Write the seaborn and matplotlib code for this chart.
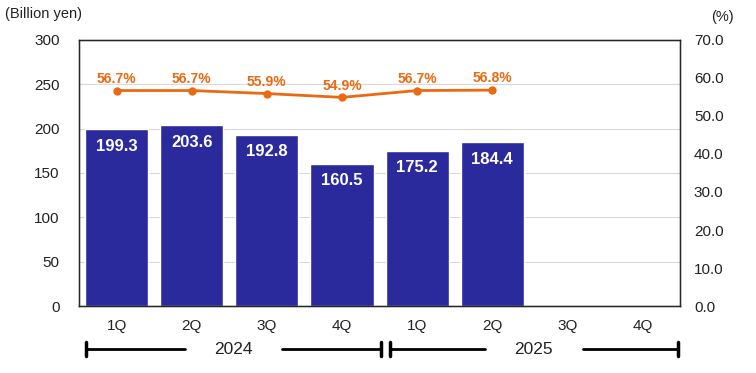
import matplotlib
matplotlib.use("Agg")
import matplotlib.pyplot as plt
import matplotlib.transforms as mtransforms
import seaborn as sns
import pandas as pd
import numpy as np

# data
years = ["2024", "2025"]
quarters = ["1Q", "2Q", "3Q", "4Q", "1Q", "2Q", "3Q", "4Q"]
slots = ["2024 1Q", "2024 2Q", "2024 3Q", "2024 4Q",
         "2025 1Q", "2025 2Q", "2025 3Q", "2025 4Q"]
sales = [199.3, 203.6, 192.8, 160.5, 175.2, 184.4, np.nan, np.nan]
ratio = [56.7, 56.7, 55.9, 54.9, 56.7, 56.8, np.nan, np.nan]

bar_col = "#2B2A9C"
line_col = "#EA6A12"

sns.set_style("white")
plt.rcParams["font.family"] = ["Liberation Sans", "DejaVu Sans"]

df = pd.DataFrame({"slot": slots, "sales": sales, "ratio": ratio})

fig = plt.figure(figsize=(7.56, 3.73), dpi=100)
ax = fig.add_axes([0.1045, 0.1796, 0.795, 0.7132])

sns.barplot(data=df, x="slot", y="sales", order=slots, color=bar_col,
            width=0.84, saturation=1, ax=ax, zorder=2)
ax.set_ylim(0, 300)
ax.set_yticks(range(0, 301, 50))
ax.yaxis.grid(True, color="#D9D9D9", lw=0.8, zorder=0)
ax.set_axisbelow(True)
ax.set_xlim(-0.5, 7.5)
ax.set_xticks(range(8))
ax.set_xticklabels(quarters)
ax.set_xlabel("")
ax.set_ylabel("")
ax.tick_params(axis="both", length=0, labelsize=11, colors="#222222")
ax.tick_params(axis="x", pad=9)
ax.tick_params(axis="y", pad=14)
for s in ax.spines.values():
    s.set_visible(True)
    s.set_color("black")
    s.set_linewidth(1)

for i, v in enumerate(sales):
    if not np.isnan(v):
        ax.text(i, v - 19, f"{v:.1f}", ha="center", va="center",
                color="white", fontsize=12, fontweight="bold", zorder=3)

ax2 = ax.twinx()
pos = [i for i, r in enumerate(ratio) if not np.isnan(r)]
vals = [r for r in ratio if not np.isnan(r)]
sns.lineplot(x=pos, y=vals, color=line_col, marker="o", markersize=6,
             markeredgewidth=0, lw=2, ax=ax2)
ax2.set_ylim(0, 70)
ax2.set_yticks(range(0, 71, 10))
ax2.set_yticklabels([f"{t:.1f}" for t in range(0, 71, 10)])
ax2.set_xlim(-0.5, 7.5)
ax2.tick_params(axis="y", length=0, labelsize=11, colors="#222222", pad=10)
for i, r in zip(pos, vals):
    ax2.annotate(f"{r:.1f}%", (i, r), xytext=(0, 8.5), textcoords="offset points",
                 ha="center", va="center", color=line_col, fontsize=10,
                 fontweight="bold")

fig.text(5 / 756, 1 - 14 / 373, "(Billion yen)", fontsize=10.5, va="center",
         color="#222222")
fig.text(722 / 756, 1 - 17 / 373, "(%)", fontsize=10.5, va="center",
         ha="center", color="#222222")

# year brackets under the quarters
tr = mtransforms.blended_transform_factory(ax.transData, ax.transAxes)
yb = -(349 - 306) / 266
th = 7 / 266
gap = 0.65
for yr, (x0, x1) in zip(years, [(-0.41, 3.52), (3.64, 7.47)]):
    xm = (x0 + x1) / 2
    for a, b in [(x0, xm - gap), (xm + gap, x1)]:
        ax.plot([a, b], [yb, yb], color="black", lw=2, transform=tr,
                clip_on=False)
    for xe in (x0, x1):
        ax.plot([xe, xe], [yb - th, yb + th], color="black", lw=2.5,
                transform=tr, clip_on=False)
    ax.text(xm, yb, yr, ha="center", va="center", fontsize=12.5,
            color="#222222", transform=tr)

fig.savefig("out.png", dpi=100)
